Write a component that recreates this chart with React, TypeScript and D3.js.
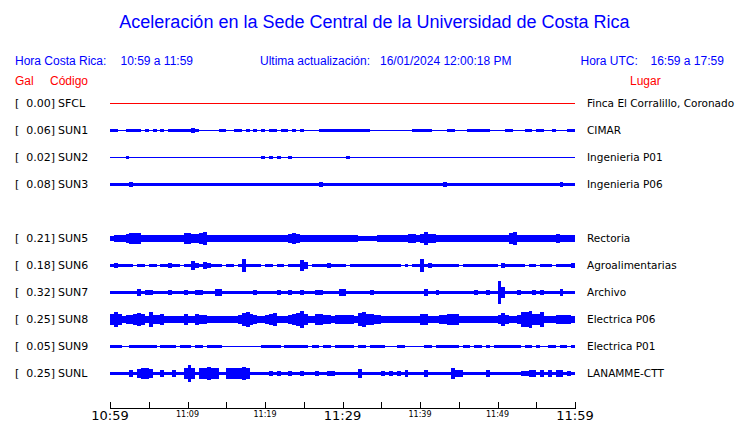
import React from "react";
import * as d3 from "d3";

// ---------- DATA ----------
const titleText = "Aceleración en la Sede Central de la Universidad de Costa Rica";
const localRange = "10:59 a 11:59";
const utcRange = "16:59 a 17:59";
const updated = "16/01/2024 12:00:18 PM";

const codes = ["SFCL", "SUN1", "SUN2", "SUN3", "SUN5", "SUN6", "SUN7", "SUN8", "SUN9", "SUNL"];
const slots = [0, 1, 2, 3, 5, 6, 7, 8, 9, 10];
const peaks = ["0.00", "0.06", "0.02", "0.08", "0.21", "0.18", "0.32", "0.25", "0.05", "0.25"];
const places = [
  "Finca El Corralillo, Coronado",
  "CIMAR",
  "Ingenieria P01",
  "Ingenieria P06",
  "Rectoria",
  "Agroalimentarias",
  "Archivo",
  "Electrica P06",
  "Electrica P01",
  "LANAMME-CTT",
];
const tickLabels = ["10:59", "11:09", "11:19", "11:29", "11:39", "11:49", "11:59"];

// envelope half-amplitude (Gal) per 30-second bin, 10:59 -> 11:59 (120 bins)
const sfcl = Array(120).fill(0);
const sun1 = [
  0.03,0.03,0,0.02,0.04,0.04,0.04,0.04,0,0.03,
  0.02,0.03,0.02,0.03,0,0.05,0.05,0.04,0.03,0.03,
  0.04,0.06,0.04,0,0,0,0,0,0.03,0.03,
  0.02,0,0.03,0.03,0.02,0.03,0,0.04,0,0.05,
  0,0.04,0.03,0,0.04,0.03,0.02,0.03,0.02,0.03,
  0,0,0,0,0.03,0.04,0.03,0.04,0.04,0.03,
  0.04,0.04,0.04,0.04,0.04,0.04,0.04,0.02,0,0.02,
  0,0,0,0.01,0,0,0,0,0.03,0.03,
  0.03,0.03,0.03,0,0.02,0.02,0,0.04,0.04,0.02,
  0.02,0,0.05,0.03,0.035,0.035,0.035,0.035,0.02,0.02,
  0.02,0,0.035,0.035,0.02,0.02,0,0.04,0.04,0,
  0.03,0.03,0,0,0.03,0,0.02,0.02,0.03,0.03,
];
const sun2 = [
  0,0,0,0,0.04,0,0,0,0,0,
  0,0,0,0,0.025,0.025,0,0,0,0,
  0,0,0,0,0,0,0,0,0,0,
  0,0,0,0,0,0,0,0.02,0,0.04,
  0,0.03,0,0.035,0,0,0.035,0,0,0,
  0.02,0,0,0,0.025,0.025,0,0,0,0,
  0,0.035,0.02,0,0,0.02,0,0,0,0,
  0,0,0,0,0,0,0,0,0,0,
  0,0,0,0,0,0,0.025,0,0,0,
  0,0,0,0,0,0,0,0,0,0,
  0,0,0,0,0,0,0,0,0,0,
  0,0,0,0,0,0,0,0,0,0,
];
const sun3 = [
  0.045,0.045,0.045,0.045,0.045,0.08,0.045,0.045,0.045,0.045,
  0.045,0.045,0.045,0.045,0.045,0.045,0.045,0.055,0.045,0.045,
  0.045,0.045,0.045,0.045,0.045,0.045,0.045,0.045,0.045,0.045,
  0.045,0.045,0.045,0.045,0.045,0.045,0.045,0.045,0.045,0.045,
  0.045,0.045,0.045,0.055,0.045,0.045,0.045,0.045,0.045,0.045,
  0.045,0.045,0.045,0.045,0.07,0.045,0.045,0.045,0.045,0.045,
  0.045,0.055,0.045,0.045,0.045,0.045,0.045,0.045,0.045,0.045,
  0.045,0.045,0.045,0.045,0.045,0.045,0.045,0.045,0.045,0.045,
  0.045,0.045,0.055,0.045,0.055,0.045,0.07,0.045,0.045,0.045,
  0.045,0.045,0.045,0.045,0.045,0.045,0.045,0.045,0.055,0.045,
  0.045,0.045,0.045,0.045,0.055,0.045,0.045,0.045,0.045,0.045,
  0.045,0.045,0.045,0.045,0.045,0.045,0.07,0.045,0.045,0.045,
];
const sun5 = [
  0.07,0.085,0.085,0.1,0.125,0.14,0.15,0.15,0.11,0.1,
  0.11,0.085,0.085,0.1,0.11,0.1,0.11,0.085,0.1,0.14,
  0.15,0.125,0.125,0.14,0.17,0.1,0.085,0.1,0.085,0.085,
  0.1,0.11,0.1,0.11,0.1,0.085,0.1,0.085,0.1,0.085,
  0.1,0.085,0.1,0.085,0.1,0.11,0.125,0.14,0.125,0.11,
  0.1,0.085,0.1,0.1,0.085,0.1,0.11,0.1,0.085,0.1,
  0.1,0.1,0.1,0.085,0.07,0.07,0.07,0.07,0.07,0.085,
  0.1,0.1,0.085,0.1,0.11,0.1,0.11,0.125,0.125,0.11,
  0.125,0.19,0.125,0.125,0.11,0.1,0.1,0.085,0.1,0.1,
  0.085,0.1,0.1,0.085,0.085,0.085,0.085,0.1,0.085,0.085,
  0.1,0.085,0.11,0.14,0.19,0.1,0.085,0.085,0.085,0.085,
  0.085,0.085,0.085,0.1,0.11,0.125,0.11,0.11,0.1,0.1,
];
const sun6 = [
  0.036,0.07,0.036,0.036,0.036,0.036,0.015,0.036,0.036,0.015,
  0.036,0.036,0.015,0.036,0.036,0.065,0.036,0.036,0.015,0.036,
  0.036,0.125,0.07,0.036,0.085,0.07,0.036,0.036,0.036,0.015,
  0.036,0.055,0.015,0.036,0.18,0.036,0.036,0.036,0.036,0.015,
  0.036,0.036,0.015,0.036,0.036,0.015,0.036,0.036,0.036,0.14,
  0.085,0.015,0.036,0.036,0.036,0.036,0.07,0.036,0.036,0.036,
  0.055,0.015,0.036,0.036,0.036,0.036,0.036,0.036,0.045,0.036,
  0.045,0.036,0.045,0.036,0.036,0.015,0.036,0.015,0.055,0.036,
  0.17,0.036,0.07,0.036,0.036,0.036,0.036,0.036,0.036,0.055,
  0.015,0.036,0.055,0.036,0.036,0.036,0.036,0.036,0.036,0.055,
  0.015,0.07,0.036,0.036,0.036,0.036,0.055,0.015,0.036,0.036,
  0.015,0.036,0.036,0.055,0.015,0.036,0.036,0.036,0.036,0.07,
];
const sun7 = [
  0.055,0.055,0.055,0.055,0.055,0.055,0.055,0.085,0.055,0.07,
  0.07,0.055,0.055,0.055,0.055,0.07,0.055,0.055,0.055,0.07,
  0.055,0.055,0.07,0.07,0.055,0.055,0.055,0.085,0.085,0.055,
  0.055,0.055,0.055,0.055,0.055,0.055,0.055,0.07,0.055,0.03,
  0.055,0.055,0.055,0.07,0.055,0.055,0.07,0.055,0.055,0.07,
  0.055,0.055,0.055,0.07,0.07,0.055,0.055,0.055,0.055,0.1,
  0.085,0.055,0.055,0.055,0.055,0.055,0.055,0.07,0.055,0.055,
  0.055,0.055,0.03,0.055,0.055,0.055,0.055,0.055,0.055,0.055,
  0.055,0.1,0.055,0.055,0.07,0.055,0.055,0.055,0.055,0.055,
  0.055,0.055,0.055,0.055,0.07,0.055,0.055,0.07,0.055,0.055,
  0.32,0.14,0.055,0.055,0.055,0.07,0.055,0.055,0.055,0.07,
  0.055,0.07,0.055,0.055,0.055,0.055,0.085,0.055,0.055,0.055,
];
const sun8 = [
  0.14,0.21,0.15,0.11,0.125,0.125,0.14,0.18,0.14,0.11,
  0.21,0.125,0.125,0.14,0.11,0.1,0.1,0.1,0.11,0.14,
  0.085,0.11,0.14,0.125,0.125,0.11,0.1,0.1,0.11,0.1,
  0.085,0.1,0.11,0.125,0.17,0.22,0.14,0.125,0.1,0.11,
  0.125,0.15,0.19,0.11,0.11,0.11,0.125,0.14,0.19,0.25,
  0.14,0.11,0.11,0.14,0.14,0.125,0.125,0.11,0.125,0.125,
  0.125,0.125,0.125,0.11,0.17,0.22,0.14,0.14,0.125,0.125,
  0.11,0.085,0.085,0.1,0.1,0.1,0.1,0.11,0.11,0.11,
  0.14,0.14,0.11,0.11,0.11,0.125,0.125,0.14,0.15,0.14,
  0.11,0.1,0.1,0.1,0.1,0.11,0.11,0.11,0.11,0.11,
  0.125,0.18,0.125,0.11,0.11,0.125,0.21,0.22,0.25,0.14,
  0.14,0.21,0.11,0.11,0.11,0.125,0.125,0.125,0.125,0.11,
];
const sun9 = [
  0.035,0.035,0.035,0,0,0.055,0.035,0.035,0.035,0.035,
  0.035,0.035,0,0.035,0.035,0.035,0.035,0,0.035,0.035,
  0.035,0,0.035,0.035,0,0.035,0.035,0.035,0.035,0,
  0,0,0,0,0,0,0,0,0,0.05,
  0.035,0.035,0.035,0.035,0,0.035,0.035,0.035,0.035,0.035,
  0.035,0,0.035,0.035,0,0.035,0.035,0,0.035,0.035,
  0.035,0.035,0.035,0,0.035,0.035,0,0.035,0.035,0.035,
  0.035,0,0,0,0.035,0.035,0,0,0,0,
  0,0.035,0.035,0,0.035,0.035,0.035,0.035,0.035,0.035,
  0,0.035,0.035,0,0.035,0.035,0,0.035,0,0.035,
  0.035,0.05,0.035,0.035,0.035,0.035,0,0.035,0.035,0,
  0.035,0,0,0.035,0.035,0,0.035,0.035,0,0.035,
];
const sunl = [
  0.055,0.055,0.055,0.055,0.055,0.085,0.055,0.125,0.15,0.15,
  0.125,0.055,0.055,0.085,0.055,0.055,0.085,0.055,0.055,0.14,
  0.25,0.14,0.055,0.14,0.14,0.17,0.16,0.14,0.055,0.055,
  0.15,0.15,0.14,0.16,0.18,0.14,0.055,0.055,0.055,0.055,
  0.055,0.07,0.055,0.07,0.055,0.055,0.07,0.055,0.055,0.07,
  0.055,0.055,0.055,0.07,0.055,0.055,0.07,0.07,0.055,0.055,
  0.055,0.055,0.055,0.055,0.125,0.055,0.055,0.055,0.055,0.055,
  0.07,0.055,0.07,0.055,0.07,0.055,0.085,0.055,0.055,0.055,
  0.055,0.085,0.055,0.055,0.055,0.055,0.055,0.055,0.14,0.085,
  0.085,0.055,0.055,0.055,0.055,0.055,0.055,0.085,0.055,0.055,
  0.055,0.055,0.055,0.055,0.055,0.055,0.07,0.07,0.085,0.085,
  0.055,0.1,0.055,0.1,0.055,0.085,0.085,0.055,0.07,0.055,
];
const traces = [sfcl, sun1, sun2, sun3, sun5, sun6, sun7, sun8, sun9, sunl];
const traceColors = ["#ff0000", "#0000ff", "#0000ff", "#0000ff", "#0000ff", "#0000ff", "#0000ff", "#0000ff", "#0000ff", "#0000ff"];

// ---------- LAYOUT ----------
const W = 740;
const H = 423;
const BLUE = "#0000ff";
const RED = "#ff0000";
const binMinutes = 0.5;

export default function App() {
  const x = d3.scaleLinear().domain([0, 60]).range([110, 575]);
  const rowY = d3.scaleLinear().domain([0, 10]).range([103, 373]);
  const amp = d3.scaleLinear().domain([0, 0.32]).range([0, 11.5]);
  const ticks = d3.range(0, 61, 5);
  const axisY = 408.5;

  const sans = "'Liberation Sans', Arial, sans-serif";
  const dv = "'DejaVu Sans', sans-serif";

  return (
    <svg
      width={W}
      height={H}
      style={{ position: "absolute", left: 0, top: 0, background: "#fff" }}
    >
      <text x={374.5} y={28} textAnchor="middle" fontFamily={sans} fontSize={18} fill={BLUE}>
        {titleText}
      </text>
      <g fontFamily={sans} fontSize={12} fill={BLUE}>
        <text x={15} y={65}>Hora Costa Rica:</text>
        <text x={120.5} y={65}>{localRange}</text>
        <text x={260} y={65}>Ultima actualización:</text>
        <text x={380} y={65}>{updated}</text>
        <text x={580.5} y={65}>Hora UTC:</text>
        <text x={650.5} y={65}>{utcRange}</text>
      </g>
      <g fontFamily={sans} fontSize={12} fill={RED}>
        <text x={15} y={85}>Gal</text>
        <text x={50} y={85}>Código</text>
        <text x={630} y={85}>Lugar</text>
      </g>

      {codes.map((code, k) => {
        const cy = Math.round(rowY(slots[k])) + 0.5;
        const data = traces[k];
        const color = traceColors[k];
        return (
          <g key={code}>
            <g fontFamily={dv} fontSize={11} fill="#000">
              <text x={15} y={cy + 3.5}>[</text>
              <text x={55} y={cy + 3.5} textAnchor="end">{peaks[k]}]</text>
              <text x={58} y={cy + 3.5}>{code}</text>
              <text x={587} y={cy + 3.5} fontSize={10.5}>{places[k]}</text>
            </g>
            <g shapeRendering="crispEdges">
              <line x1={x(0)} x2={x(60)} y1={cy} y2={cy} stroke={color} strokeWidth={1} />
              {data.map((v, i) =>
                v > 0 ? (
                  <rect
                    key={i}
                    x={x(i * binMinutes)}
                    width={x((i + 1) * binMinutes) - x(i * binMinutes)}
                    y={cy - Math.max(amp(v), 0.5)}
                    height={2 * Math.max(amp(v), 0.5)}
                    fill={color}
                  />
                ) : null
              )}
            </g>
          </g>
        );
      })}

      <g shapeRendering="crispEdges">
        <line x1={x(0)} x2={x(60)} y1={axisY} y2={axisY} stroke="#000" />
        {ticks.map((t) => (
          <line key={t} x1={Math.round(x(t)) + 0.5} x2={Math.round(x(t)) + 0.5} y1={axisY - 7} y2={axisY} stroke="#000" />
        ))}
      </g>
      <g fontFamily={dv} fill="#000" textAnchor="middle">
        {tickLabels.map((lab, j) => {
          const big = j % 3 === 0;
          return (
            <text key={lab} x={x(j * 10)} y={big ? 420 : 417} fontSize={big ? 13 : 8}>
              {lab}
            </text>
          );
        })}
      </g>
    </svg>
  );
}
